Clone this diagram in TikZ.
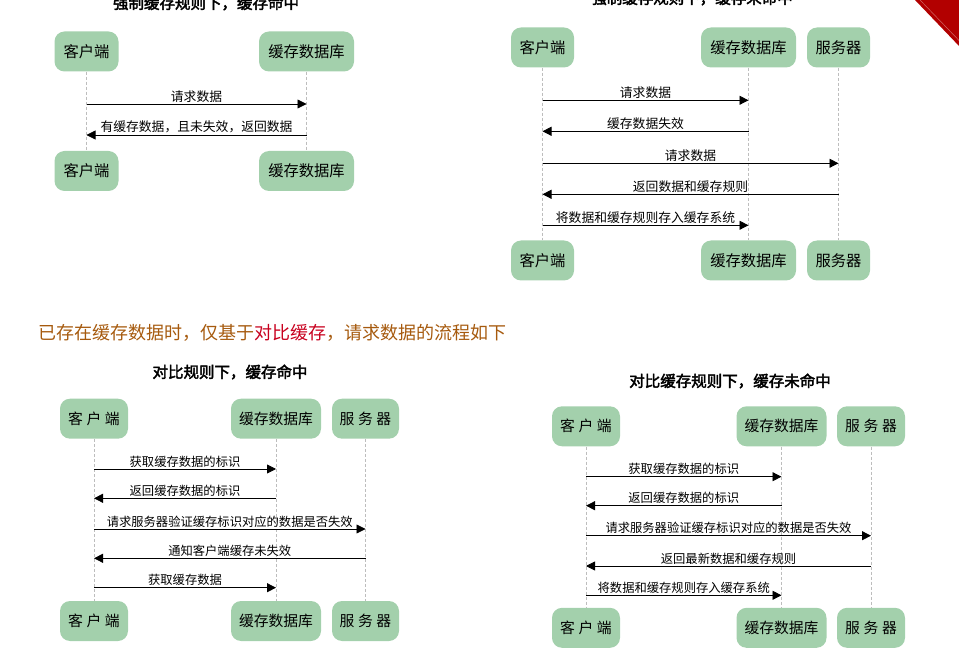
\documentclass[tikz,border=0pt]{standalone}
\usepackage{fontspec}
\setmainfont{Noto Sans CJK SC}[AutoFakeBold=2.5]
\usetikzlibrary{arrows.meta,positioning}
\definecolor{boxgreen}{HTML}{A3D0AC}
\definecolor{lifegray}{HTML}{BDBDBD}
\definecolor{notebrown}{HTML}{A65A0E}
\definecolor{notered}{HTML}{C8001E}
\definecolor{ribbon}{HTML}{B20000}
\newcommand{\gap}{\hspace{3.6pt}}

\begin{document}
\begin{tikzpicture}[x=1pt, y=-1pt,
    actor/.style={rounded corners=10pt, fill=boxgreen, minimum height=40pt, inner sep=0pt,
                  font=\fontsize{15.3}{17}\selectfont},
    actorb/.style={actor, font=\fontsize{14.8}{17}\selectfont},
    msg/.style={-{Triangle[length=9pt, width=9pt]}, line width=0.8pt},
    life/.style={dash pattern=on 3pt off 2pt, lifegray, line width=0.7pt},
    lbl/.style={above, inner sep=1.5pt, font=\fontsize{12.8}{14}\selectfont},
    lblb/.style={lbl, font=\fontsize{12.3}{14}\selectfont},
    title/.style={font=\bfseries\fontsize{15.5}{17}\selectfont}
  ]
  \useasboundingbox (0,0) rectangle (959,660);

  % corner ribbon
  \fill[ribbon] (915,0) -- (960,0) -- (960,47) -- cycle;
  \draw[ribbon!60!white, line width=0.5pt] (920,0) -- (960,41.5);

  % Forced cache, hit
  \node[title] (t1) at (206,3) {强制缓存规则下，缓存命中};
  \node[actor, minimum width=64pt] (c1) at (86.5,51.5) {客户端};
  \node[actor, minimum width=95pt] (d1) at (306.5,51.5) {缓存数据库};
  \node[actor, minimum width=64pt] (c1b) at (86.5,171) {客户端};
  \node[actor, minimum width=95pt] (d1b) at (306.5,171) {缓存数据库};
  \draw[life] (c1.south) -- (c1b.north);
  \draw[life] (d1.south) -- (d1b.north);
  \draw[msg] (c1 |- 0,104) -- node[lbl] {请求数据} (d1 |- 0,104);
  \draw[msg] (d1 |- 0,135) -- node[lbl] {有缓存数据，且未失效，返回数据} (c1 |- 0,135);

  % Forced cache, miss
  \node[title] (t2) at (692,-2) {强制缓存规则下，缓存未命中};
  \node[actor, minimum width=63pt] (c2) at (542.5,47.5) {客户端};
  \node[actor, minimum width=95pt] (d2) at (748.5,47.5) {缓存数据库};
  \node[actor, minimum width=63pt] (s2) at (838.5,47.5) {服务器};
  \node[actor, minimum width=63pt] (c2b) at (542.5,260.5) {客户端};
  \node[actor, minimum width=95pt] (d2b) at (748.5,260.5) {缓存数据库};
  \node[actor, minimum width=63pt] (s2b) at (838.5,260.5) {服务器};
  \draw[life] (c2.south) -- (c2b.north);
  \draw[life] (d2.south) -- (d2b.north);
  \draw[life] (s2.south) -- (s2b.north);
  \draw[msg] (c2 |- 0,100.3) -- node[lbl] {请求数据} (d2 |- 0,100.3);
  \draw[msg] (d2 |- 0,131.3) -- node[lbl] {缓存数据失效} (c2 |- 0,131.3);
  \draw[msg] (c2 |- 0,163.3) -- node[lbl] {请求数据} (s2 |- 0,163.3);
  \draw[msg] (s2 |- 0,194.3) -- node[lbl] {返回数据和缓存规则} (c2 |- 0,194.3);
  \draw[msg] (c2 |- 0,225.3) -- node[lbl] {将数据和缓存规则存入缓存系统} (d2 |- 0,225.3);

  % note line
  \node[anchor=west, inner sep=0pt, text=notebrown, font=\fontsize{18}{20}\selectfont] (note) at (38,333)
    {已存在缓存数据时，仅基于{\color{notered}对比缓存}，请求数据的流程如下};

  % Compare cache, hit
  \node[title] (t3) at (230,372) {对比规则下，缓存命中};
  \node[actorb, minimum width=68pt] (c3) at (94,418.7) {客\gap 户\gap 端};
  \node[actorb, minimum width=90pt] (d3) at (276,418.7) {缓存数据库};
  \node[actorb, minimum width=67pt] (s3) at (365.5,418.7) {服\gap 务\gap 器};
  \node[actorb, minimum width=68pt] (c3b) at (94,621) {客\gap 户\gap 端};
  \node[actorb, minimum width=90pt] (d3b) at (276,621) {缓存数据库};
  \node[actorb, minimum width=67pt] (s3b) at (365.5,621) {服\gap 务\gap 器};
  \draw[life] (c3.south) -- (c3b.north);
  \draw[life] (d3.south) -- (d3b.north);
  \draw[life] (s3.south) -- (s3b.north);
  \draw[msg] (c3 |- 0,469) -- node[lblb] {获取缓存数据的标识} (d3 |- 0,469);
  \draw[msg] (d3 |- 0,498.3) -- node[lblb] {返回缓存数据的标识} (c3 |- 0,498.3);
  \draw[msg] (c3 |- 0,529) -- node[lblb] {请求服务器验证缓存标识对应的数据是否失效} (s3 |- 0,529);
  \draw[msg] (s3 |- 0,558.3) -- node[lblb] {通知客户端缓存未失效} (c3 |- 0,558.3);
  \draw[msg] (c3 |- 0,587.7) -- node[lblb] {获取缓存数据} (d3 |- 0,587.7);

  % Compare cache, miss
  \node[title] (t4) at (730,381) {对比缓存规则下，缓存未命中};
  \node[actorb, minimum width=68pt] (c4) at (586,426.3) {客\gap 户\gap 端};
  \node[actorb, minimum width=90pt] (d4) at (781.5,426.3) {缓存数据库};
  \node[actorb, minimum width=68pt] (s4) at (871,426.3) {服\gap 务\gap 器};
  \node[actorb, minimum width=68pt] (c4b) at (586,627.8) {客\gap 户\gap 端};
  \node[actorb, minimum width=90pt] (d4b) at (781.5,627.8) {缓存数据库};
  \node[actorb, minimum width=68pt] (s4b) at (871,627.8) {服\gap 务\gap 器};
  \draw[life] (c4.south) -- (c4b.north);
  \draw[life] (d4.south) -- (d4b.north);
  \draw[life] (s4.south) -- (s4b.north);
  \draw[msg] (c4 |- 0,476.7) -- node[lblb] {获取缓存数据的标识} (d4 |- 0,476.7);
  \draw[msg] (d4 |- 0,505.7) -- node[lblb] {返回缓存数据的标识} (c4 |- 0,505.7);
  \draw[msg] (c4 |- 0,535.7) -- node[lblb] {请求服务器验证缓存标识对应的数据是否失效} (s4 |- 0,535.7);
  \draw[msg] (s4 |- 0,566) -- node[lblb] {返回最新数据和缓存规则} (c4 |- 0,566);
  \draw[msg] (c4 |- 0,595.3) -- node[lblb] {将数据和缓存规则存入缓存系统} (d4 |- 0,595.3);
\end{tikzpicture}
\end{document}
